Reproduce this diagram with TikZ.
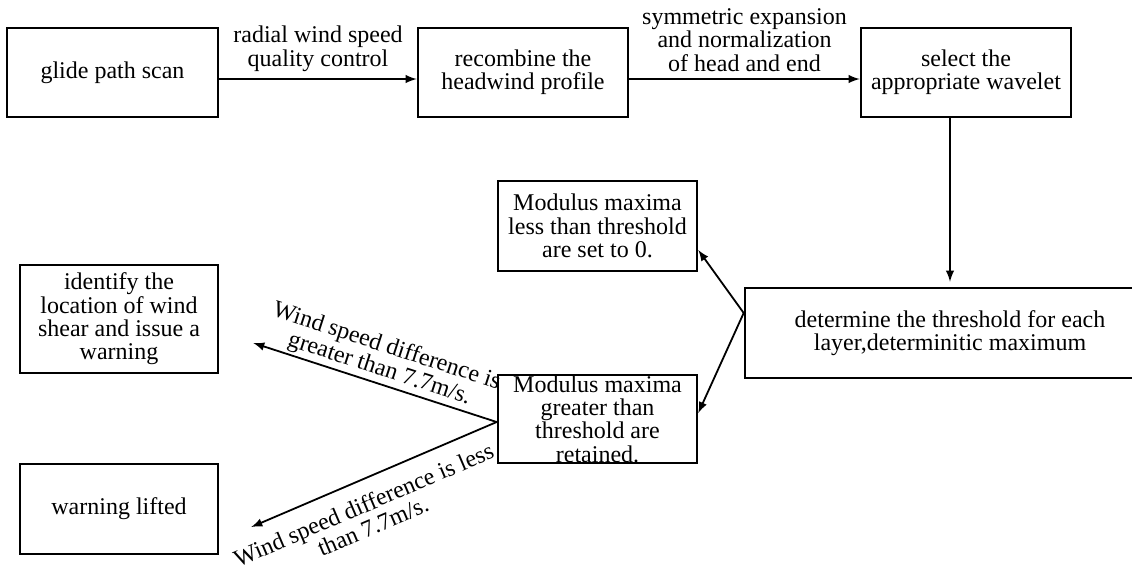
\documentclass[tikz,border=0pt]{standalone}
\usepackage{fontspec}
\setmainfont{Liberation Serif}
\usetikzlibrary{arrows}

\begin{document}
\begin{tikzpicture}[x=0.5pt,y=0.5pt,
  blk/.style={draw, line width=1.3pt, align=center, inner sep=0pt,
    font=\fontsize{12}{11.7}\selectfont},
  lnk/.style={-latex, line width=0.9pt},
  lbl/.style={align=center, font=\fontsize{12}{11.7}\selectfont}]

\useasboundingbox (0,0) rectangle (1132,-564);

%top row
\node[blk, minimum width=105.5pt, minimum height=44.5pt] (scan) at (112.5,-72.5) {glide path scan};
\node[blk, minimum width=105pt, minimum height=44.5pt] (recomb) at (523,-72.5) {recombine the\\headwind profile};
\node[blk, minimum width=105pt, minimum height=44.5pt] (wavelet) at (966,-72.5) {select the\\appropriate wavelet};

%threshold and modulus maxima
\node[blk, minimum width=205pt, minimum height=45pt] (thresh) at (950,-333) {determine the threshold for each\\layer,determinitic maximum};
\node[blk, minimum width=99.5pt, minimum height=45pt] (lessth) at (597.5,-226) {Modulus maxima\\less than threshold\\are set to 0.};
\node[blk, minimum width=99.5pt, minimum height=44pt] (greatth) at (597.5,-419) {Modulus maxima\\greater than\\threshold are\\retained.};

%results
\node[blk, minimum width=99pt, minimum height=54pt] (alarm) at (119,-319) {identify the\\location of wind\\shear and issue a\\warning};
\node[blk, minimum width=99pt, minimum height=45pt] (lifted) at (119,-509) {warning lifted};

%arrows
\draw[lnk] ([yshift=-3.25pt]scan.east) -- ([yshift=-3.25pt]recomb.west)
  node[lbl, midway, above] {radial wind speed\\quality control};
\draw[lnk] ([yshift=-3.25pt]recomb.east) -- ([yshift=-3.25pt]wavelet.west)
  node[lbl, midway, above] {symmetric expansion\\and normalization\\of head and end};
\draw[lnk, shorten >=2.5pt] (wavelet.south -| thresh.north) -- (thresh.north);

\coordinate (split) at ([yshift=10pt]thresh.west);
\draw[lnk] (split) -- ([yshift=-12pt]lessth.east);
\draw[lnk] (split) -- ([yshift=3pt]greatth.east);

\coordinate (fork) at ([yshift=-1.5pt]greatth.west);
\draw[lnk] (fork) -- ([xshift=17pt,yshift=-12pt]alarm.east)
  node[lbl, midway, sloped, above, inner sep=1pt] {Wind speed difference is\\greater than 7.7m/s.};
\draw[lnk] (fork) -- ([xshift=16pt,yshift=-9pt]lifted.east)
  node[lbl, pos=0.58, sloped, below, inner sep=7pt] {Wind speed difference is less\\than 7.7m/s.};

\end{tikzpicture}
\end{document}
